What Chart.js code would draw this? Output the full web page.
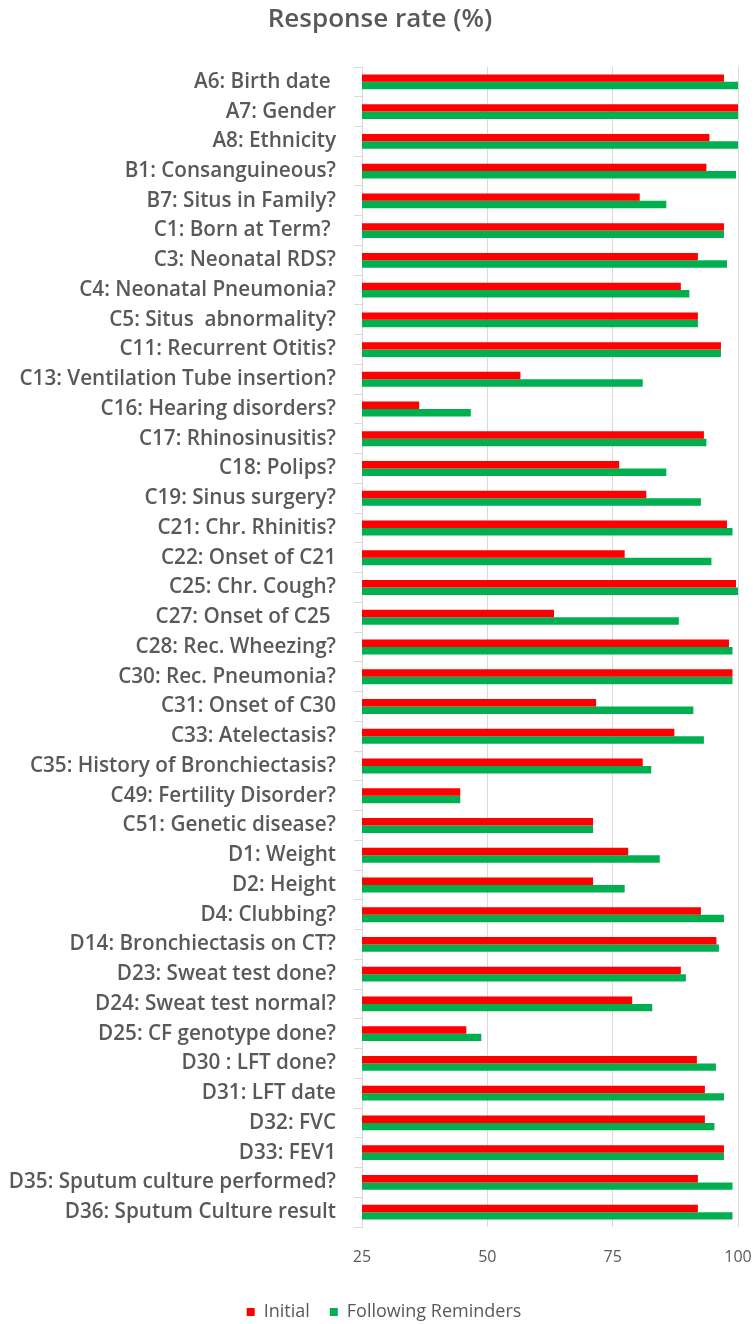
<!DOCTYPE html>
<html>
<head>
<meta charset="utf-8">
<script src="https://cdn.jsdelivr.net/npm/chart.js@4"></script>
<style>
  html, body { margin: 0; padding: 0; background: #fff; }
</style>
</head>
<body>
<canvas id="response-chart" width="754" height="1324"></canvas>
<script>
const questions = [
  "A6: Birth date ", "A7: Gender", "A8: Ethnicity", "B1: Consanguineous?",
  "B7: Situs in Family?", "C1: Born at Term? ", "C3: Neonatal RDS?",
  "C4: Neonatal Pneumonia?", "C5: Situs  abnormality?", "C11: Recurrent Otitis?",
  "C13: Ventilation Tube insertion?", "C16: Hearing disorders?", "C17: Rhinosinusitis?",
  "C18: Polips?", "C19: Sinus surgery?", "C21: Chr. Rhinitis?", "C22: Onset of C21",
  "C25: Chr. Cough?", "C27: Onset of C25 ", "C28: Rec. Wheezing?", "C30: Rec. Pneumonia?",
  "C31: Onset of C30", "C33: Atelectasis?", "C35: History of Bronchiectasis?",
  "C49: Fertility Disorder?", "C51: Genetic disease?", "D1: Weight", "D2: Height",
  "D4: Clubbing?", "D14: Bronchiectasis on CT?", "D23: Sweat test done?",
  "D24: Sweat test normal?", "D25: CF genotype done?", "D30 : LFT done?",
  "D31: LFT date", "D32: FVC", "D33: FEV1", "D35: Sputum culture performed?",
  "D36: Sputum Culture result"
];

const initial = [
  97.2, 100, 94.3, 93.7, 80.4, 97.2, 92.0, 88.6, 92.0, 96.6,
  56.6, 36.4, 93.2, 76.3, 81.7, 97.8, 77.4, 99.6, 63.3, 98.2,
  98.9, 71.7, 87.3, 81.0, 44.6, 71.1, 78.1, 71.1, 92.6, 95.7,
  88.6, 78.9, 45.8, 91.8, 93.4, 93.4, 97.2, 92.0, 92.0
];

const reminders = [
  100, 100, 100, 99.6, 85.7, 97.2, 97.8, 90.3, 92.0, 96.6,
  81.0, 46.7, 93.7, 85.7, 92.6, 98.9, 94.7, 100, 88.2, 98.9,
  98.9, 91.1, 93.2, 82.7, 44.6, 71.1, 84.4, 77.4, 97.2, 96.2,
  89.6, 82.9, 48.8, 95.6, 97.2, 95.3, 97.2, 98.9, 98.9
];

const xTicks = [25, 50, 75, 100];

const grey = "#595959";
const font = "Open Sans";

// title and legend sit a bit right of the canvas centre in the original
const nudge = {
  id: "nudge",
  afterLayout(chart) {
    chart.titleBlock.left += 11;
    chart.titleBlock.right += 11;
    chart.legend.left += 15;
    chart.legend.right += 15;
  }
};

new Chart("response-chart", {
  type: "bar",
  data: {
    labels: questions,
    datasets: [
      { label: "Initial", data: initial, backgroundColor: "#ff0000" },
      { label: "Following Reminders", data: reminders, backgroundColor: "#00b050" }
    ]
  },
  options: {
    indexAxis: "y",
    responsive: false,
    animation: false,
    categoryPercentage: 0.5,
    barPercentage: 1.0,
    layout: { padding: { left: 0, right: 16, top: 0, bottom: -7 } },
    plugins: {
      title: {
        display: true,
        text: "Response rate (%)",
        color: grey,
        font: { family: font, size: 26, weight: "600" },
        padding: { top: 4, bottom: 31.8 }
      },
      legend: {
        position: "bottom",
        labels: {
          color: grey,
          font: { family: font, size: 18 },
          boxWidth: 8,
          boxHeight: 8,
          padding: 20
        }
      },
      tooltip: { enabled: false }
    },
    scales: {
      x: {
        min: 25,
        max: 100,
        afterBuildTicks: axis => { axis.ticks = xTicks.map(v => ({ value: v })); },
        ticks: { color: grey, font: { family: font, size: 16 }, padding: 21 },
        grid: { color: "#d9d9d9", drawTicks: false },
        border: { display: false },
        afterFit: axis => {
          axis.height = 56;
          axis.paddingLeft = 0;
          axis.paddingRight = 0;
        }
      },
      y: {
        ticks: { color: grey, font: { family: font, size: 20.7, weight: "600" }, padding: 18, autoSkip: false },
        grid: { drawOnChartArea: false, color: "#d9d9d9", tickLength: 8 },
        border: { color: "#d9d9d9" },
        afterFit: axis => { axis.width = 362; }
      }
    }
  },
  plugins: [nudge]
});
</script>
</body>
</html>
